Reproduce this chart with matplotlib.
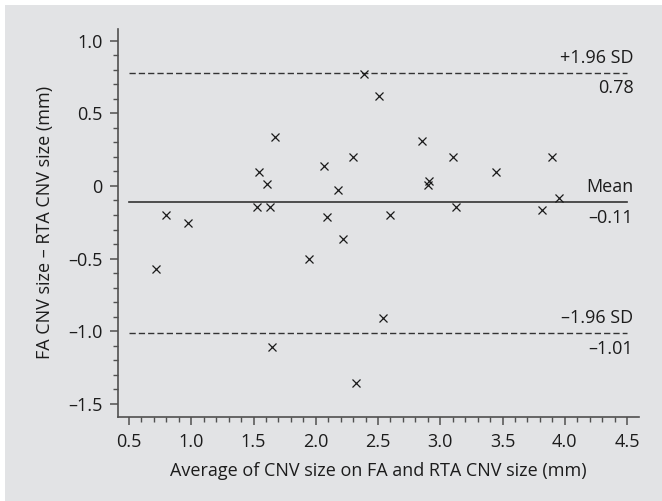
import matplotlib
matplotlib.use("Agg")
import matplotlib.pyplot as plt
from matplotlib.ticker import FixedLocator, MultipleLocator
from matplotlib.patches import Rectangle

# ---- data ----
avg_size = [0.714, 0.80, 0.974, 1.544, 1.528, 1.606, 1.630, 1.670, 1.649,
            1.949, 2.066, 2.090, 2.182, 2.217, 2.300, 2.323, 2.385, 2.508,
            2.543, 2.600, 2.851, 2.905, 2.910, 3.100, 3.124, 3.451, 3.815,
            3.898, 3.957]
diff_size = [-0.573, -0.202, -0.252, 0.098, -0.142, 0.012, -0.142, 0.339, -1.106,
             -0.505, 0.138, -0.216, -0.030, -0.365, 0.200, -1.358, 0.773, 0.622,
             -0.906, -0.202, 0.310, 0.009, 0.037, 0.200, -0.145, 0.096, -0.165,
             0.200, -0.083]
mean_diff = -0.11
upper_loa = 0.78
lower_loa = -1.01
line_x = [0.5, 4.5]

x_ticks = [0.5, 1.0, 1.5, 2.0, 2.5, 3.0, 3.5, 4.0, 4.5]
x_tick_labels = ['0.5', '1.0', '1.5', '2.0', '2.5', '3.0', '3.5', '4.0', '4.5']
y_ticks = [-1.5, -1.0, -0.5, 0, 0.5, 1.0]
y_tick_labels = ['\u20131.5', '\u20131.0', '\u20130.5', '0', '0.5', '1.0']

x_label = 'Average of CNV size on FA and RTA CNV size (mm)'
y_label = 'FA CNV size \u2013 RTA CNV size (mm)'
upper_text = ['+1.96 SD', '0.78']
mean_text = ['Mean', '\u20130.11']
lower_text = ['\u20131.96 SD', '\u20131.01']

# ---- style ----
plt.rcParams['font.family'] = ['Open Sans', 'DejaVu Sans']
bg = '#e2e3e5'
txt = '#1c1c1c'
spine_c = '#505050'
fs = 13.0

W, H = 662, 501
fig = plt.figure(figsize=(W / 100, H / 100), dpi=100, facecolor='white')
fig.patches.append(Rectangle((5 / W, 0), 1, (H - 5) / H, transform=fig.transFigure,
                             facecolor=bg, edgecolor='none', zorder=-10))

left, right, top, bottom = 117.7, 639.0, 29.0, 416.7
ax = fig.add_axes([left / W, (H - bottom) / H, (right - left) / W, (bottom - top) / H])
ax.set_zorder(5)
ax.set_facecolor('none')
ax.set_xlim(0.409, 4.596)
ax.set_ylim(-1.588, 1.08)

for s in ['top', 'right']:
    ax.spines[s].set_visible(False)
for s in ['left', 'bottom']:
    ax.spines[s].set_color(spine_c)
    ax.spines[s].set_linewidth(1.2)

ax.xaxis.set_major_locator(FixedLocator(x_ticks))
ax.set_xticklabels(x_tick_labels)
ax.yaxis.set_major_locator(FixedLocator(y_ticks))
ax.set_yticklabels(y_tick_labels)
ax.xaxis.set_minor_locator(MultipleLocator(0.1))
ax.yaxis.set_minor_locator(MultipleLocator(0.1))
ax.tick_params(which='major', direction='out', length=6, width=1.1, color=spine_c,
               labelsize=fs, labelcolor=txt)
ax.tick_params(which='minor', direction='out', length=3.8, width=1.0, color=spine_c)
ax.tick_params(axis='x', which='major', pad=5.5)
ax.tick_params(axis='y', which='major', pad=5)

ax.set_xlabel(x_label, fontsize=fs, color=txt, labelpad=8)
ax.set_ylabel(y_label, fontsize=fs, color=txt, labelpad=8)
ax.yaxis.set_label_coords(-0.122, 0.5)

# lines
ax.plot(line_x, [upper_loa, upper_loa], color='#333333', lw=1.0, linestyle=(0, (4.5, 2.2)))
ax.plot(line_x, [lower_loa, lower_loa], color='#333333', lw=1.0, linestyle=(0, (4.5, 2.2)))
ax.plot(line_x, [mean_diff, mean_diff], color='#333333', lw=1.2)

# points
ax.plot(avg_size, diff_size, linestyle='none', marker='x', markersize=5.6,
        markeredgewidth=0.9, color='#1a1a1a')

# annotations
for val, (above, below) in [(upper_loa, upper_text), (mean_diff, mean_text),
                            (lower_loa, lower_text)]:
    ax.annotate(above, xy=(line_x[1], val), xytext=(4.5, 6.8), textcoords='offset points',
                ha='right', va='baseline', fontsize=fs, color=txt)
    ax.annotate(below, xy=(line_x[1], val), xytext=(4.5, -15.0), textcoords='offset points',
                ha='right', va='baseline', fontsize=fs, color=txt)

fig.savefig('out.png', dpi=100, facecolor=fig.get_facecolor())
